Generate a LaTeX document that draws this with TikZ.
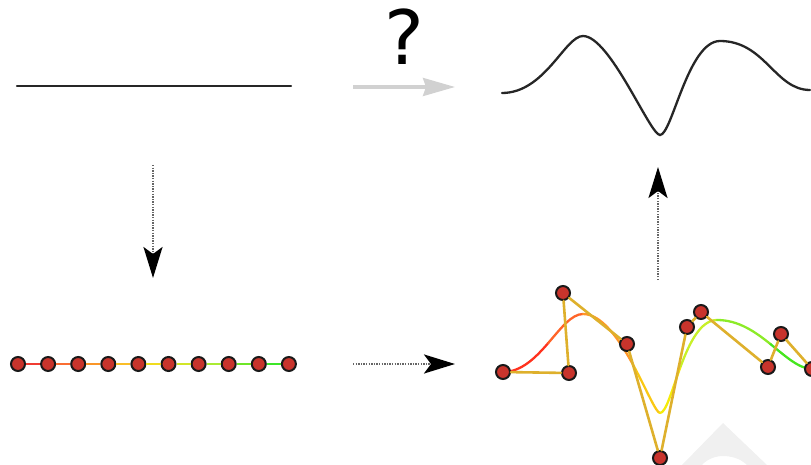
\documentclass[tikz,border=0pt]{standalone}
\usepackage{fontspec}
\newfontfamily\qfont{DejaVu Sans}
\usepackage{tikz}
\usetikzlibrary{arrows.meta, positioning, calc}
\usepackage{xcolor}
\definecolor{dotred}{RGB}{200,52,44}
\definecolor{polycolor}{RGB}{222,176,44}
\definecolor{markgray}{RGB}{240,240,240}
% colours along the sampled line
\definecolor{seg1}{RGB}{240,60,50}
\definecolor{seg2}{RGB}{250,110,50}
\definecolor{seg3}{RGB}{250,150,40}
\definecolor{seg4}{RGB}{250,190,40}
\definecolor{seg5}{RGB}{240,220,30}
\definecolor{seg6}{RGB}{210,230,40}
\definecolor{seg7}{RGB}{170,235,50}
\definecolor{seg8}{RGB}{110,230,40}
\definecolor{seg9}{RGB}{60,230,40}
% colours along the fitted curve
\definecolor{fit1}{RGB}{255,50,30}
\definecolor{fit2}{RGB}{255,100,40}
\definecolor{fit3}{RGB}{255,150,40}
\definecolor{fit4}{RGB}{250,200,20}
\definecolor{fit5}{RGB}{245,235,10}
\definecolor{fit6}{RGB}{200,240,40}
\definecolor{fit7}{RGB}{140,235,40}
\definecolor{fit8}{RGB}{70,230,30}

\begin{document}
\begin{tikzpicture}[
    x=1pt, y=-1pt,
    sample/.style={circle, draw=black!90, line width=2pt, fill=dotred, inner sep=0pt, minimum size=14pt},
    curve/.style={line width=2.3pt, black!85, line cap=round},
    fitpiece/.style={line width=2.3pt, line cap=round},
    poly/.style={line width=2.6pt, polycolor, line cap=round},
    dotarrow/.style={dash pattern=on 1.4pt off 1.2pt, line width=2.6pt, black!60, -{Stealth[length=31pt, width=19pt, inset=7pt, color=black]}},
    grayarrow/.style={line width=3.2pt, black!18, -{Stealth[length=32pt, width=18pt, inset=3pt]}}
]
\useasboundingbox (0,0) rectangle (811,465);

% faint mark in the corner
\fill[markgray] (682,465) -- (723,423) -- (767,465) -- (747,465)
    .. controls (740,458) and (730,456) .. (723,456)
    .. controls (716,456) and (707,459) .. (702,465) -- cycle;

% top row
\coordinate (l1) at (17,86);
\coordinate (l2) at (291,86);
\draw[curve] (l1) -- (l2);

\node[font=\qfont\fontsize{75}{75}\selectfont, anchor=base, inner sep=0pt] (q) at (404,65) {?};
\coordinate (ga1) at (353,87);
\coordinate (ga2) at (455,87);
\draw[grayarrow] (ga1) -- (ga2);

\draw[curve] (502,93) .. controls (545,93) and (565,36) .. (583,36)
    .. controls (610,36) and (650,135) .. (660,135)
    .. controls (672,135) and (688,41) .. (720,41)
    .. controls (765,41) and (775,90) .. (810,90);

% arrows between rows
\coordinate (da1) at (153,165);
\coordinate (da2) at (153,278);
\draw[dotarrow] (da1) -- (da2);
\coordinate (ha1) at (353,364);
\coordinate (ha2) at (455,364);
\draw[dotarrow] (ha1) -- (ha2);
\coordinate (ua1) at (658,280);
\coordinate (ua2) at (658,167);
\draw[dotarrow] (ua1) -- (ua2);

% sampled line
\foreach \i in {1,...,10}
    \node[sample] (b\i) at ({18+30.1*(\i-1)},364) {};
\foreach \i [evaluate=\i as \j using int(\i+1)] in {1,...,9}
    \draw[line width=2.4pt, seg\i] (b\i) -- (b\j);

% fitted curve
\draw[fitpiece, fit1] (503,372) .. controls (521.5,372) and (535.75,357.5) .. (548.25,343);
\draw[fitpiece, fit2] (548.25,343) .. controls (560.75,328.5) and (571.5,314) .. (583,314);
\draw[fitpiece, fit3] (583,314) .. controls (601.5,314) and (618.75,338.75) .. (632.375,363.5);
\draw[fitpiece, fit4] (632.375,363.5) .. controls (646,388.25) and (656,413) .. (660,413);
\draw[fitpiece, fit5] (660,413) .. controls (666,413) and (672,389.75) .. (680.625,366.5);
\draw[fitpiece, fit6] (680.625,366.5) .. controls (689.25,343.25) and (700.5,320) .. (717,320);
\draw[fitpiece, fit7] (717,320) .. controls (738.5,320) and (755.5,332) .. (770.5,344.125);
\draw[fitpiece, fit8] (770.5,344.125) .. controls (785.5,356.25) and (798.5,368.5) .. (812,369);

% control points
\node[sample] (s1) at (503,372) {};
\node[sample] (s2) at (569,373) {};
\node[sample] (s3) at (563,293) {};
\node[sample] (s4) at (627,344) {};
\node[sample] (s5) at (660,458) {};
\node[sample] (s6) at (687,327) {};
\node[sample] (s7) at (701,312) {};
\node[sample] (s8) at (768,367) {};
\node[sample] (s9) at (781,334) {};
\node[sample] (s10) at (812,369) {};
\foreach \i [evaluate=\i as \j using int(\i+1)] in {1,...,9}
    \draw[poly] (s\i) -- (s\j);

\end{tikzpicture}
\end{document}
